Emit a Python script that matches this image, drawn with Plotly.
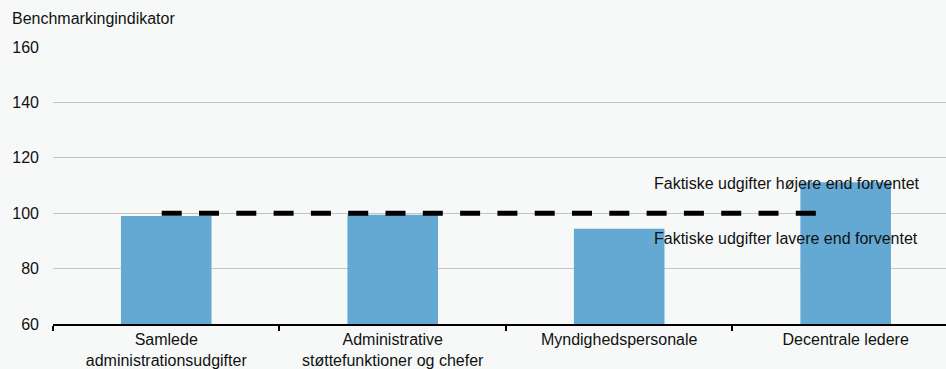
import plotly.graph_objects as go

categories = ["Samlede<br>administrationsudgifter",
              "Administrative<br>støttefunktioner og chefer",
              "Myndighedspersonale",
              "Decentrale ledere"]
values = [99.0, 99.4, 94.4, 111.2]
ref_x = [-0.02, 2.87]
ref_y = [100, 100]
y_ticks = [60, 80, 100, 120, 140, 160]
label_high = "Faktiske udgifter højere end forventet"
label_low = "Faktiske udgifter lavere end forventet"
y_title = "Benchmarkingindikator"

FONT = "Arial, Liberation Sans, sans-serif"
TXT = "#111111"
BG = "#f7f9f9"
FS = 16

xpos = list(range(len(categories)))

fig = go.Figure()
fig.add_trace(go.Bar(x=xpos, y=values, width=0.4, marker=dict(color="#63a9d4", line=dict(width=0)),
                     showlegend=False))
fig.add_trace(go.Scatter(x=ref_x, y=ref_y, mode="lines",
                         line=dict(color="black", width=5, dash="20px,17.3px"),
                         showlegend=False))

fig.update_layout(
    width=946, height=369,
    margin=dict(l=53, r=0, t=47, b=45),
    paper_bgcolor=BG, plot_bgcolor=BG,
    font=dict(family=FONT, size=FS, color=TXT),
    xaxis=dict(range=[-0.5, 3.443], tickvals=xpos, ticktext=categories, ticks="",
               showgrid=False, zeroline=False, showline=True, linecolor="black", linewidth=2,
               tickfont=dict(size=FS, color=TXT),
               minor=dict(tick0=-0.5, dtick=1, ticks="outside", ticklen=5, tickcolor="black",
                          tickwidth=2, showgrid=False)),
    yaxis=dict(range=[60, 160], tickvals=y_ticks, showgrid=True, gridcolor="#c4c4c4", gridwidth=1,
               zeroline=False, showline=False, ticks="", ticklabelstandoff=13,
               tickfont=dict(size=FS, color=TXT)),
    annotations=[
        dict(text=y_title, xref="paper", yref="paper", x=-43/893, y=(324-18)/277,
             xanchor="left", yanchor="middle", showarrow=False, font=dict(size=FS, color=TXT)),
        dict(text=label_high, xref="x", yref="y", x=2.145, y=110.8, xanchor="left", yanchor="middle",
             showarrow=False, font=dict(size=FS, color=TXT)),
        dict(text=label_low, xref="x", yref="y", x=2.145, y=90.8, xanchor="left", yanchor="middle",
             showarrow=False, font=dict(size=FS, color=TXT)),
    ],
)

fig.write_html("out.html", config={"displayModeBar": False},
               post_script="document.body.style.margin='0';document.body.style.background='%s';" % BG)
